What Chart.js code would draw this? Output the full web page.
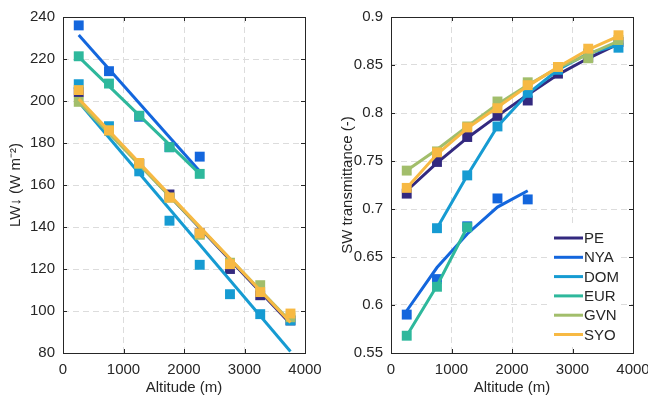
<!DOCTYPE html>
<html>
<head>
<meta charset="utf-8">
<script src="https://cdn.jsdelivr.net/npm/chart.js@4.4.1/dist/chart.umd.min.js"></script>
<style>
  html, body { margin: 0; padding: 0; background: #fff; }
  #marco { position: relative; width: 648px; height: 401px; }
  canvas { position: absolute; top: 0; }
</style>
</head>
<body>
<div id="marco">
  <canvas id="lw" style="left:0;width:324px;height:401px"></canvas>
  <canvas id="sw" style="left:324px;width:324px;height:401px"></canvas>
</div>
<script>
// Estaciones y colores
const estaciones = ['PE', 'NYA', 'DOM', 'EUR', 'GVN', 'SYO'];
const colores = ['#33297f', '#1366dd', '#169bd2', '#2eb89c', '#a2be6b', '#f7b943'];

// Altitud (m) de cada punto
const altitudes = [260, 760, 1260, 1760, 2260, 2760, 3260, 3760];

// LW abajo (W m-2), puntos
const lwPE  = [204.2, 186, 170, 155.5, 137, 120, 107.5, 95.5];
const lwNYA = [236, 214.2, 192.5, 178, 173.5];
const lwDOM = [208, 188, 166.5, 143, 122, 108, 98.5, 95.5];
const lwEUR = [221.3, 208.3, 193, 178, 165.3];
const lwGVN = [199.6, 186, 170, 154, 136.3, 123, 112.3, 97];
const lwSYO = [205.2, 186, 170.5, 154, 137, 122.3, 109, 98.8];

// Ajustes lineales (inicio y fin)
const ajusteCorto = [260, 2260];
const ajusteLargo = [260, 3760];
const fitPE  = [200.5, 94];
const fitNYA = [231.4, 166.6];
const fitDOM = [199.5, 80.7];
const fitEUR = [221, 165.3];
const fitGVN = [199.5, 95];
const fitSYO = [201, 94.5];

// Transmitancia SW, puntos
const swPE  = [0.716, 0.749, 0.775, 0.797, 0.813, 0.841, 0.858, 0.874];
const swNYA = [0.590, 0.627, 0.682, 0.711, 0.710];
const swDOM = [null, 0.680, 0.735, 0.786, 0.821, 0.845, 0.862, 0.868];
const swEUR = [0.568, 0.619, 0.681];
const swGVN = [0.740, 0.760, 0.786, 0.812, 0.832, 0.848, 0.857, 0.876];
const swSYO = [0.722, 0.759, 0.785, 0.805, 0.829, 0.848, 0.867, 0.881];

// Transmitancia SW, curvas
const lineaPE  = [0.719, 0.748, 0.774, 0.797, 0.819, 0.840, 0.857, 0.872];
const lineaNYA = [0.594, 0.639, 0.674, 0.702, 0.719];
const lineaDOM = [null, 0.680, 0.735, 0.786, 0.820, 0.845, 0.862, 0.871];
const lineaEUR = [0.568, 0.620, 0.681];
const lineaGVN = [0.740, 0.762, 0.786, 0.809, 0.829, 0.847, 0.861, 0.875];
const lineaSYO = [0.722, 0.757, 0.784, 0.806, 0.828, 0.848, 0.866, 0.880];

const fuente = "'Liberation Sans', Arial, Helvetica, sans-serif";
const gris = '#262626';

function puntos(xs, ys) {
  const out = [];
  ys.forEach((y, i) => { if (y !== null) out.push({ x: xs[i], y: y }); });
  return out;
}

function armarDatasets(marcas, lineas) {
  const ds = [];
  estaciones.forEach((nombre, i) => {
    ds.push({
      label: nombre,
      data: lineas[i],
      showLine: true,
      borderColor: colores[i],
      backgroundColor: colores[i],
      borderWidth: 3,
      pointRadius: 0,
      order: (6 - i) * 2
    });
    ds.push({
      label: nombre + ' pts',
      data: marcas[i],
      showLine: false,
      pointStyle: 'rect',
      pointRadius: 7,
      pointBorderWidth: 0,
      backgroundColor: colores[i],
      borderColor: colores[i],
      order: (6 - i) * 2 - 1
    });
  });
  return ds;
}

// Marco de los ejes y marcas hacia adentro (estilo MATLAB)
const marcoPlugin = {
  id: 'marco',
  beforeDatasetsDraw(chart) {
    const { ctx, chartArea: a, scales } = chart;
    ctx.save();
    ctx.strokeStyle = gris;
    ctx.lineWidth = 1;
    ctx.beginPath();
    scales.x.ticks.forEach(t => {
      const px = Math.round(scales.x.getPixelForValue(t.value)) + 0.5;
      ctx.moveTo(px, a.bottom); ctx.lineTo(px, a.bottom - 4);
      ctx.moveTo(px, a.top); ctx.lineTo(px, a.top + 4);
    });
    scales.y.ticks.forEach(t => {
      const py = Math.round(scales.y.getPixelForValue(t.value)) + 0.5;
      ctx.moveTo(a.left, py); ctx.lineTo(a.left + 4, py);
      ctx.moveTo(a.right, py); ctx.lineTo(a.right - 4, py);
    });
    ctx.stroke();
    ctx.strokeRect(Math.round(a.left) + 0.5, Math.round(a.top) + 0.5,
      Math.round(a.right - a.left), Math.round(a.bottom - a.top));
    ctx.restore();
  }
};

// Leyenda dentro del panel derecho
const leyendaPlugin = {
  id: 'leyendaDentro',
  afterDatasetsDraw(chart) {
    if (chart.canvas.id !== 'sw') return;
    const { ctx } = chart;
    ctx.save();
    ctx.fillStyle = '#fff';
    ctx.fillRect(227, 226, 70, 119);
    ctx.font = '15px ' + fuente;
    ctx.textBaseline = 'middle';
    estaciones.forEach((nombre, i) => {
      const y = 238 + i * 19.3;
      ctx.strokeStyle = colores[i];
      ctx.lineWidth = 3;
      ctx.beginPath();
      ctx.moveTo(230, y); ctx.lineTo(259, y);
      ctx.stroke();
      ctx.fillStyle = gris;
      ctx.fillText(nombre, 260, y + 1);
    });
    ctx.restore();
  }
};

function ejeX() {
  return {
    type: 'linear', min: 0, max: 4000,
    grid: { color: '#dcdcdc', drawTicks: false },
    border: { display: false, dash: [6, 4] },
    ticks: { stepSize: 1000, color: gris, padding: 8, maxRotation: 0,
      font: { family: fuente, size: 15 }, callback: v => String(v) },
    title: { display: true, text: 'Altitude (m)', color: gris,
      font: { family: fuente, size: 15 }, padding: { bottom: 4 } },
    afterFit: s => { s.height = 48; s.paddingLeft = 0; s.paddingRight = 0; }
  };
}

function crearPanel(id, datasets, ejeY, padDerecha) {
  return new Chart(document.getElementById(id), {
    type: 'scatter',
    data: { datasets: datasets },
    options: {
      responsive: false,
      animation: false,
      devicePixelRatio: 1,
      layout: { padding: { top: 12, right: padDerecha, bottom: 0, left: 0 } },
      plugins: { legend: { display: false }, tooltip: { enabled: false } },
      scales: { x: ejeX(), y: ejeY }
    },
    plugins: [marcoPlugin, leyendaPlugin]
  });
}

// Panel izquierdo: LW
const marcasLW = [lwPE, lwNYA, lwDOM, lwEUR, lwGVN, lwSYO].map(v => puntos(altitudes, v));
const lineasLW = [
  puntos(ajusteLargo, fitPE), puntos(ajusteCorto, fitNYA), puntos(ajusteLargo, fitDOM),
  puntos(ajusteCorto, fitEUR), puntos(ajusteLargo, fitGVN), puntos(ajusteLargo, fitSYO)
];
const cv1 = document.getElementById('lw');
cv1.width = 324; cv1.height = 401;
crearPanel('lw', armarDatasets(marcasLW, lineasLW), {
  type: 'linear', min: 80, max: 240,
  grid: { color: '#dcdcdc', drawTicks: false },
  border: { display: false, dash: [6, 4] },
  ticks: { stepSize: 20, color: gris, padding: 8, font: { family: fuente, size: 15 } },
  title: { display: true, text: 'LW\u2193 (W m\u207B\u00B2)', color: gris,
    font: { family: fuente, size: 15 }, padding: { top: 7 } },
  afterFit: s => { s.width = 63; }
}, 19);

// Panel derecho: transmitancia SW
const marcasSW = [swPE, swNYA, swDOM, swEUR, swGVN, swSYO].map(v => puntos(altitudes, v));
const lineasSW = [lineaPE, lineaNYA, lineaDOM, lineaEUR, lineaGVN, lineaSYO].map(v => puntos(altitudes, v));
const cv2 = document.getElementById('sw');
cv2.width = 324; cv2.height = 401;
crearPanel('sw', armarDatasets(marcasSW, lineasSW), {
  type: 'linear', min: 0.55, max: 0.9,
  grid: { color: '#dcdcdc', drawTicks: false },
  border: { display: false, dash: [6, 4] },
  ticks: { stepSize: 0.05, color: gris, padding: 8, font: { family: fuente, size: 15 },
    callback: v => String(parseFloat(v.toFixed(2))) },
  title: { display: true, text: 'SW transmittance (-)', color: gris,
    font: { family: fuente, size: 15 }, padding: { top: 15 } },
  afterFit: s => { s.width = 67; }
}, 15);
</script>
</body>
</html>
